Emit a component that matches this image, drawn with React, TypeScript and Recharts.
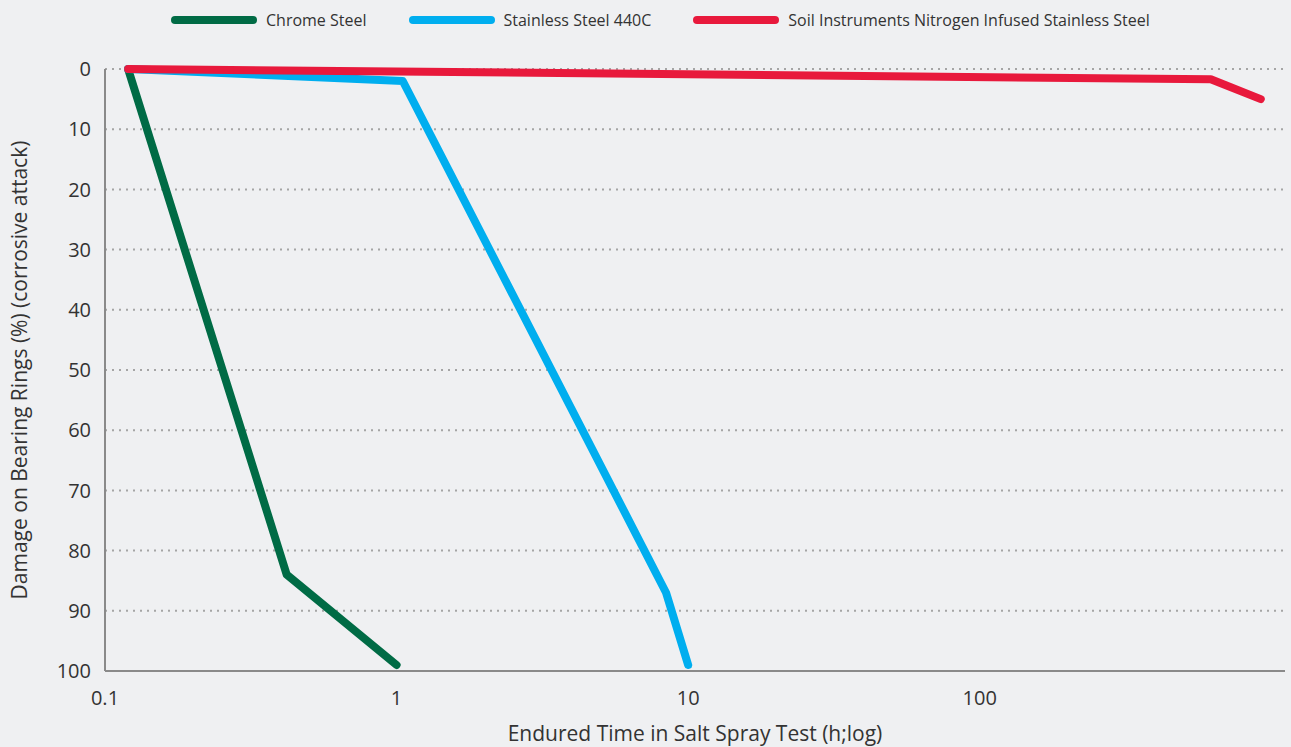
import { LineChart, Line, CartesianGrid, XAxis, YAxis, Legend } from 'recharts';

// hours in salt spray test (log scale) vs damage on bearing rings (%)
const chromeTime = [0.12, 0.42, 1];
const chromeDamage = [0, 84, 99];
const steel440Time = [0.12, 1.05, 8.4, 10];
const steel440Damage = [0, 2, 87, 99];
const nitrogenTime = [0.12, 620, 920];
const nitrogenDamage = [0, 1.7, 5];

const seriesNames = ['Chrome Steel', 'Stainless Steel 440C', 'Soil Instruments Nitrogen Infused Stainless Steel'];
const xTicks = [0.1, 1, 10, 100];
const yTicks = [0, 10, 20, 30, 40, 50, 60, 70, 80, 90, 100];

const toRows = (t: number[], d: number[]) => t.map((time, i) => ({ time, damage: d[i] }));
const chromeData = toRows(chromeTime, chromeDamage);
const steel440Data = toRows(steel440Time, steel440Damage);
const nitrogenData = toRows(nitrogenTime, nitrogenDamage);

const font = '"Open Sans", sans-serif';

const LegendBox = (props: any) => {
  const items = [...(props.payload || [])].sort(
    (a: any, b: any) => seriesNames.indexOf(a.value) - seriesNames.indexOf(b.value)
  );
  return (
    <div style={{ display: 'flex', alignItems: 'center', paddingLeft: 171, fontFamily: font, fontSize: 16, color: '#333' }}>
      {items.map((it: any) => (
        <div key={it.value} style={{ display: 'flex', alignItems: 'center', marginRight: 42 }}>
          <div style={{ width: 86, height: 8, borderRadius: 4, background: it.color, marginRight: 9 }} />
          <span>{it.value}</span>
        </div>
      ))}
    </div>
  );
};

const App = () => {
  return (
    <div style={{ position: 'absolute', left: 0, top: 0, width: 1291, height: 747, background: '#eff0f2' }}>
      <LineChart width={1291} height={747} margin={{ top: 69, right: 6, bottom: 0, left: 0 }}>
        <CartesianGrid horizontal vertical={false} stroke="#a5a5a5" strokeWidth={2} strokeDasharray="2 5" />
        <XAxis
          type="number"
          dataKey="time"
          scale="log"
          domain={[0.1, 1114]}
          ticks={xTicks}
          allowDataOverflow
          height={76}
          tickLine={false}
          tickSize={18}
          axisLine={{ stroke: '#8a8a8a', strokeWidth: 2 }}
          tick={{ fill: '#333', fontSize: 20, fontFamily: font }}
          label={{ value: 'Endured Time in Salt Spray Test (h;log)', position: 'insideBottom', offset: 6, fill: '#333', fontSize: 21, fontFamily: font }}
        />
        <YAxis
          type="number"
          domain={[0, 100]}
          reversed
          ticks={yTicks}
          width={105}
          tickLine={false}
          tickSize={12}
          axisLine={{ stroke: '#8a8a8a', strokeWidth: 2 }}
          tick={{ fill: '#333', fontSize: 20, fontFamily: font }}
          label={{ value: 'Damage on Bearing Rings (%) (corrosive attack)', angle: -90, position: 'insideLeft', offset: 20, fill: '#333', fontSize: 21, fontFamily: font, style: { textAnchor: 'middle' } }}
        />
        <Legend verticalAlign="middle" align="center" content={<LegendBox />} wrapperStyle={{ top: 9, left: 0, width: 1291 }} />
        <Line data={chromeData} dataKey="damage" name={seriesNames[0]} stroke="#006b45" strokeWidth={8} strokeLinecap="round" strokeLinejoin="round" dot={false} type="linear" isAnimationActive={false} />
        <Line data={steel440Data} dataKey="damage" name={seriesNames[1]} stroke="#00aeef" strokeWidth={8} strokeLinecap="round" strokeLinejoin="round" dot={false} type="linear" isAnimationActive={false} />
        <Line data={nitrogenData} dataKey="damage" name={seriesNames[2]} stroke="#e8193c" strokeWidth={8} strokeLinecap="round" strokeLinejoin="round" dot={false} type="linear" isAnimationActive={false} />
      </LineChart>
    </div>
  );
};

export default App;
